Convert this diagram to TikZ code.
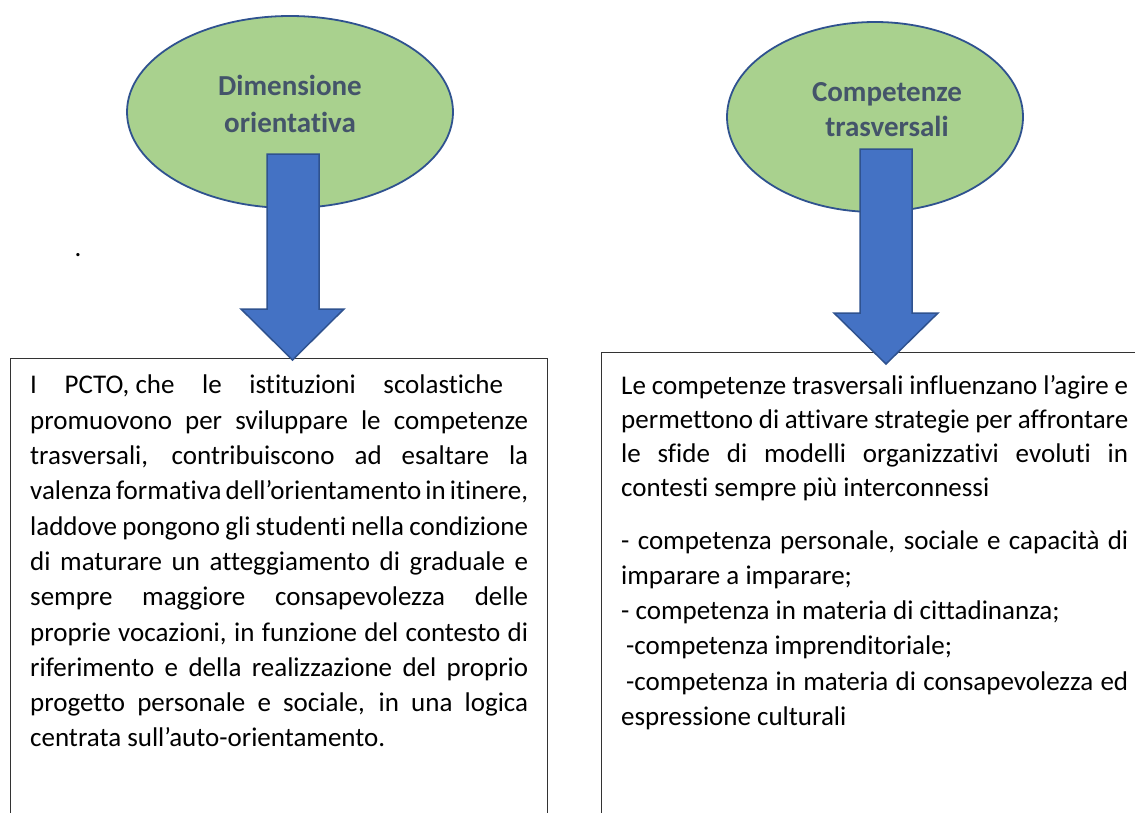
\documentclass[tikz,border=0pt]{standalone}
\usepackage{fontspec}
\setmainfont{Carlito}[Ligatures={NoCommon}]
\usetikzlibrary{shapes.geometric}
\definecolor{ellfill}{HTML}{A9D18E}
\definecolor{ellline}{HTML}{2F528F}
\definecolor{arrfill}{HTML}{4472C4}
\definecolor{titlecol}{HTML}{44546A}
\begin{document}
\begin{tikzpicture}[x=1pt,y=-1pt,
  oval/.style={ellipse, draw=ellline, line width=1.8pt, fill=ellfill, inner sep=0pt},
  bigarrow/.style={fill=arrfill, draw=ellline, line width=1.5pt, line join=miter},
  textbox/.style={draw=black!80, line width=1pt, anchor=north west, inner sep=0pt},
  title/.style={text=titlecol, font=\bfseries\fontsize{29}{37}\selectfont, align=center, inner sep=0pt},
  body/.style={anchor=north west, inner sep=0pt, align=justify, font=\fontsize{27}{35.3}\selectfont}]
\clip (0,0) rectangle (1135,812);
\fill[white] (0,0) rectangle (1135,812);
% boxes
\node[textbox, minimum width=537pt, minimum height=480pt] (b1) at (10,358) {};
\node[textbox, minimum width=560pt, minimum height=480pt] (b2) at (601,352) {};
% ellipses
\node[oval, minimum width=326pt, minimum height=192pt] (e1) at (290,112) {};
\node[title] (t1) at (290,104) {Dimensione\\orientativa};
\node[oval, minimum width=296pt, minimum height=190pt] (e2) at (875,117) {};
\node[title, font=\bfseries\fontsize{29}{35}\selectfont] (t2) at (887,110) {Competenze\\trasversali};
% arrows
\draw[bigarrow] (267,154) -- (319,154) -- (319,309) -- (344,309) -- (292.5,360) -- (241,309) -- (267,309) -- cycle;
\draw[bigarrow] (860,149) -- (912,149) -- (912,313) -- (938,313) -- (886,364) -- (834,313) -- (860,313) -- cycle;
% dot
\node[inner sep=0pt, font=\fontsize{27}{30}\selectfont] (dot) at (78,255) {.};
% left text
\node[body, text width=498pt] (p1) at (30,375) {%
I PCTO,\hbox{ }che le istituzioni scolastiche\hspace*{25pt}\linebreak
promuovono per sviluppare le competenze\linebreak
trasversali, contribuiscono ad esaltare la\linebreak
\makebox[\linewidth][s]{\spaceskip=0.1em plus 1em minus 0.05em valenza formativa dell’orientamento in itinere,}\linebreak
\makebox[\linewidth][s]{\spaceskip=0.15em plus 1em minus 0.05em laddove pongono gli studenti nella condizione}\linebreak
di maturare un atteggiamento di graduale e\linebreak
sempre maggiore consapevolezza delle\linebreak
proprie vocazioni, in funzione del contesto di\linebreak
riferimento e della realizzazione del proprio\linebreak
progetto personale e sociale, in una logica\linebreak
centrata sull’auto-orientamento.};
% right text
\node[body, text width=507pt] (p2) at (621,375) {%
{\fontsize{27}{34}\selectfont
Le competenze trasversali influenzano l’agire e\linebreak
permettono di attivare strategie per affrontare\linebreak
le sfide di modelli organizzativi evoluti in\linebreak
contesti sempre più interconnessi\par}
\vspace{17.5pt}
- competenza personale, sociale e capacità di\linebreak
imparare a imparare;\newline
- competenza in materia di cittadinanza;\newline
\hspace*{5pt}-competenza imprenditoriale;\newline
\hspace*{5pt}-competenza in materia di consapevolezza ed\linebreak
espressione culturali};
\end{tikzpicture}
\end{document}
